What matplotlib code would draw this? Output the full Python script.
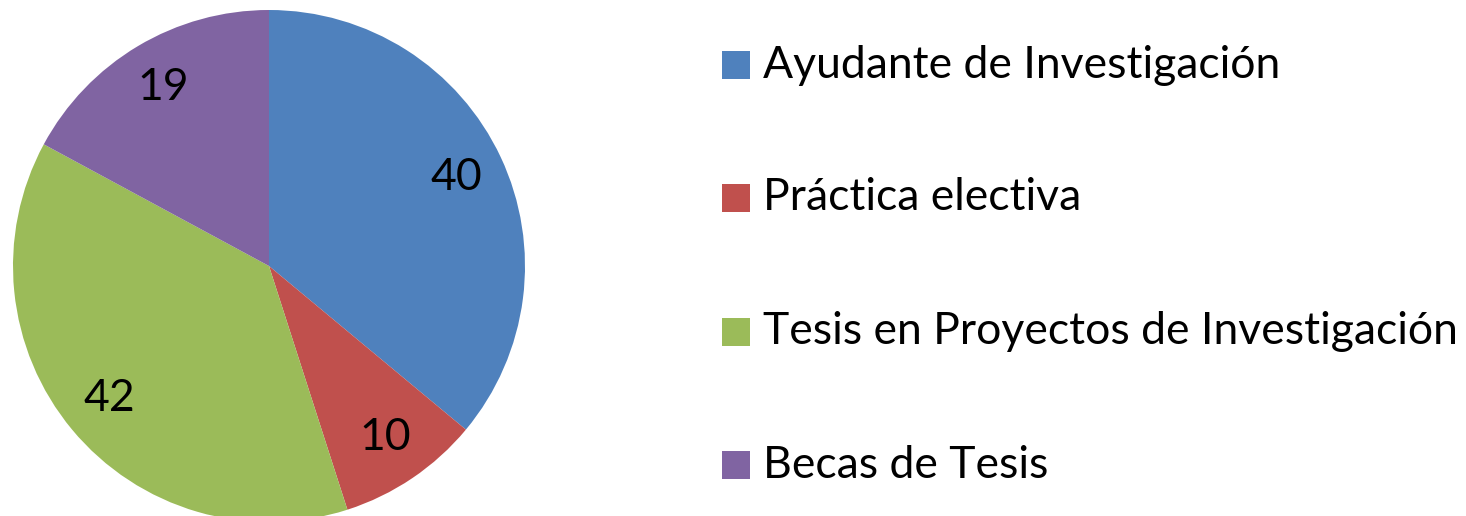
import matplotlib.pyplot as plt
from matplotlib.patches import Rectangle

# Datos
categorias = ["Ayudante de Investigación", "Práctica electiva",
              "Tesis en Proyectos de Investigación", "Becas de Tesis"]
valores = [40, 10, 42, 19]
colores = ["#4F81BD", "#C0504D", "#9BBB59", "#8064A2"]

plt.rcParams["font.family"] = ["Lato", "DejaVu Sans"]

W, H = 1466, 516
fig = plt.figure(figsize=(W / 100, H / 100), dpi=100)

# Pie centered at (269, 266) px with radius 256 px
cx, cy, r = 269, 266, 256
ax = fig.add_axes([(cx - r) / W, (H - cy - r) / H, 2 * r / W, 2 * r / H])
wedges, texts = ax.pie(valores, colors=colores, startangle=90, counterclock=False,
                       labels=[str(v) for v in valores], labeldistance=0.81,
                       wedgeprops=dict(linewidth=0))
for t in texts:
    t.set_fontsize(32)
    t.set_ha("center")
    t.set_va("center")
ax.set_xlim(-1, 1)
ax.set_ylim(-1, 1)
ax.set_aspect("equal")
ax.axis("off")

# Legend
fila_y = [65, 198, 332, 465]
for nombre, color, y in zip(categorias, colores, fila_y):
    fig.patches.append(Rectangle((722 / W, (H - y - 14) / H), 28 / W, 28 / H,
                                 transform=fig.transFigure, facecolor=color,
                                 edgecolor="none"))
    fig.text(763 / W, (H - y) / H, nombre, fontsize=32, va="center", ha="left")

fig.savefig("out.png", dpi=100)
